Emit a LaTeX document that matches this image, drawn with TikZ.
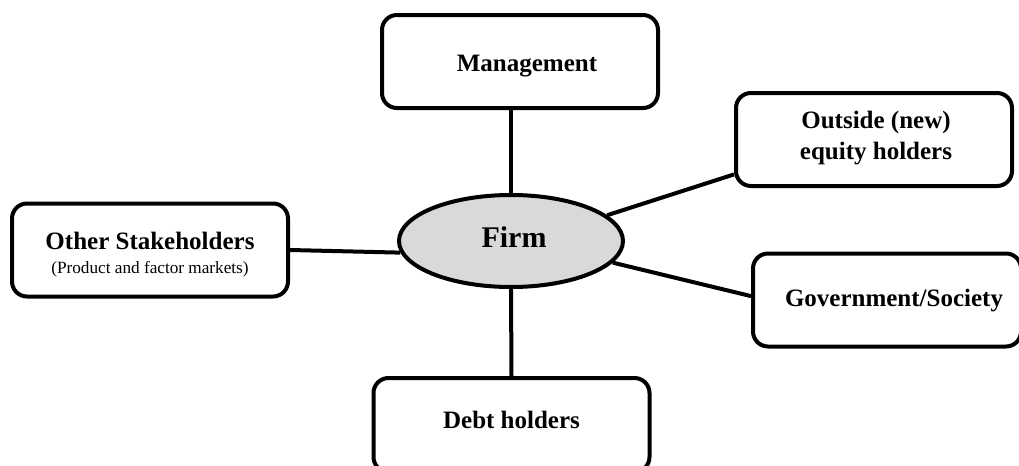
\documentclass[tikz,border=0pt]{standalone}
\usepackage{fontspec}
\setmainfont{Liberation Serif}
\usetikzlibrary{shapes.geometric,calc}
\definecolor{firmgray}{HTML}{D9D9D9}
\tikzset{
  party/.style={draw,line width=2pt,rounded corners=7.5pt,align=center,
    font=\fontsize{12.5}{14}\selectfont\bfseries,
    minimum width=138pt,minimum height=46.5pt,inner sep=0pt},
  link/.style={line width=2pt}
}
% text set with its baseline #1 below the node centre
\newcommand{\onbase}[2]{\raisebox{-#1}[0pt][0pt]{#2}}
\begin{document}
\begin{tikzpicture}[x=.5pt,y=-.5pt]
  \clip (0,0) rectangle (1019,466);
  \node[party] (mgmt) at (520,61.5) {\hspace*{7pt}\onbase{4.75pt}{Management}};
  \node[party] (equity) at (874,139.5) {\onbase{-5.6pt}{\begin{tabular}[t]{@{}c@{}}
    \hspace*{2pt}Outside (new)\\[1.5pt]\hspace*{2pt}equity holders\end{tabular}}};
  \node[party] (other) at (150,250) {\onbase{-.5pt}{\begin{tabular}[t]{@{}c@{}}
    Other Stakeholders\\[-2pt]
    {\fontsize{8.6}{10}\selectfont\mdseries (Product and factor markets)}\end{tabular}}};
  \node[party,minimum width=134pt] (gov) at (887,300) {\hspace*{7pt}\onbase{3.3pt}{Government/Society}};
  \node[party,minimum height=47pt] (debt) at (511.5,425) {\onbase{1.5pt}{Debt holders}};
  \node[ellipse,draw,fill=firmgray,line width=2pt,minimum width=112pt,minimum height=46pt,
    font=\fontsize{15}{18}\selectfont\bfseries] (firm) at (511,241) {\hspace*{3pt}\onbase{3pt}{Firm}};
  % spokes
  \draw[link] (firm.north |- mgmt.south) -- (firm.north);
  \draw[link] (firm.south) -- (debt.north);
  \draw[link] (other.east) -- (firm.186);
  \draw[link] (firm.15.5) -- ($(equity.south west)!.14!(equity.north west)$);
  \draw[link] (firm.-12.5) -- ($(gov.south west)!.54!(gov.north west)$);
\end{tikzpicture}
\end{document}
